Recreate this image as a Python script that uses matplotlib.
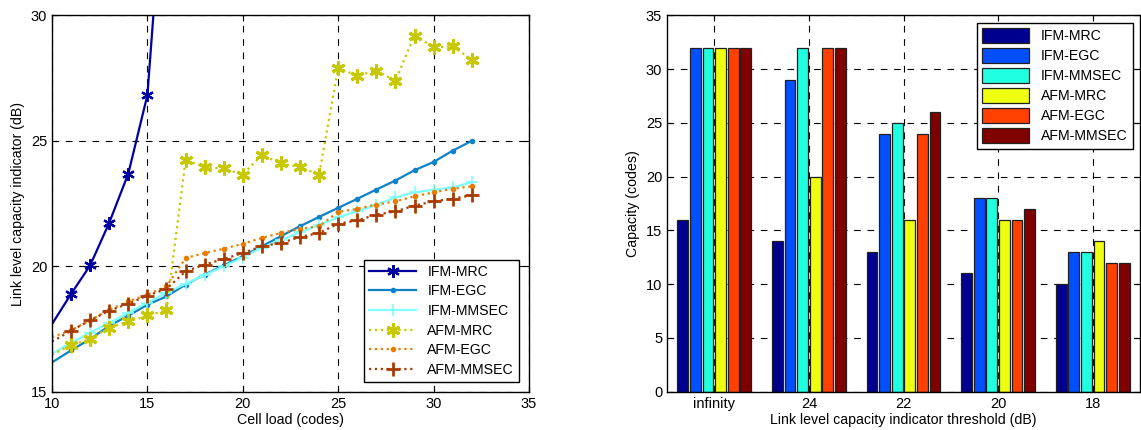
import numpy as np
import matplotlib
matplotlib.use("Agg")
import matplotlib.pyplot as plt

plt.rcParams["font.family"] = ["Liberation Sans", "DejaVu Sans"]
plt.rcParams["font.size"] = 10.2

# left panel: link level capacity indicator vs cell load
load = np.arange(10, 33)
ifm_mrc_load = np.arange(10, 17)
ifm_mrc = [17.7, 18.9, 20.04, 21.74, 23.7, 26.83, 37.0]
ifm_egc = [16.17, 16.65, 17.1, 17.63, 18.03, 18.47, 18.8, 19.27, 19.67, 20.04, 20.4, 20.8,
           21.2, 21.6, 21.97, 22.33, 22.69, 23.06, 23.42, 23.83, 24.16, 24.61, 25.0]
ifm_mmsec = [16.52, 16.95, 17.35, 17.75, 18.15, 18.55, 18.95, 19.3, 19.65, 20.0, 20.35, 20.75,
             21.05, 21.35, 21.65, 21.95, 22.2, 22.45, 22.75, 22.95, 23.05, 23.15, 23.35]
afm_mrc = [16.48, 16.85, 17.1, 17.56, 17.8, 18.04, 18.24, 24.24, 23.95, 23.9, 23.66, 24.44,
           24.1, 23.95, 23.66, 27.9, 27.6, 27.8, 27.4, 29.2, 28.73, 28.77, 28.24]
afm_egc = [17.18, 17.45, 17.85, 18.27, 18.6, 18.87, 19.2, 20.33, 20.53, 20.7, 20.9, 21.13,
           21.33, 21.49, 21.6, 22.17, 22.29, 22.46, 22.59, 22.79, 22.95, 23.09, 23.19]
afm_mmsec = [17.0, 17.43, 17.85, 18.23, 18.51, 18.83, 19.1, 19.8, 20.07, 20.29, 20.53, 20.8,
             20.93, 21.17, 21.33, 21.7, 21.83, 22.06, 22.19, 22.42, 22.59, 22.7, 22.83]

# right panel: capacity per threshold
thresholds = ["infinity", "24", "22", "20", "18"]
schemes = ["IFM-MRC", "IFM-EGC", "IFM-MMSEC", "AFM-MRC", "AFM-EGC", "AFM-MMSEC"]
capacity = {
    "IFM-MRC":   [16, 14, 13, 11, 10],
    "IFM-EGC":   [32, 29, 24, 18, 13],
    "IFM-MMSEC": [32, 32, 25, 18, 13],
    "AFM-MRC":   [32, 20, 16, 16, 14],
    "AFM-EGC":   [32, 32, 24, 16, 12],
    "AFM-MMSEC": [32, 32, 26, 17, 12],
}
bar_colors = ["#00008f", "#0050ff", "#20ffdf", "#efff10", "#ff4000", "#800000"]

fig = plt.figure(figsize=(11.41, 4.30), dpi=100)
ax1 = fig.add_axes([0.0456, 0.089, 0.418, 0.875])
ax2 = fig.add_axes([0.5846, 0.089, 0.4145, 0.875])

grid_kw = dict(color="black", linestyle=(0, (6, 6)), linewidth=0.8)

skip = slice(1, None)
ax1.plot(ifm_mrc_load, ifm_mrc, color="#0000a0", lw=1.6, marker=(6, 2, 0), ms=9, mew=1.6,
         markevery=skip, label="IFM-MRC")
ax1.plot(load, ifm_egc, color="#0f82c8", lw=1.6, marker="o", ms=3, markevery=skip, label="IFM-EGC")
ax1.plot(load, ifm_mmsec, color="#80ffff", lw=1.6, marker="+", ms=9, mew=1.2,
         markevery=skip, label="IFM-MMSEC")
ax1.plot(load, afm_mrc, color="#c8c800", lw=1.6, linestyle=":", marker=(6, 2, 0), ms=10, mew=2.2,
         markevery=skip, label="AFM-MRC")
ax1.plot(load, afm_egc, color="#e87d00", lw=1.6, linestyle=":", marker="o", ms=3,
         markevery=skip, label="AFM-EGC")
ax1.plot(load, afm_mmsec, color="#a83c00", lw=1.6, linestyle=":", marker="+", ms=10, mew=2,
         markevery=skip, label="AFM-MMSEC")
ax1.set_xlim(10, 35)
ax1.set_ylim(15, 30)
ax1.set_xticks(range(10, 36, 5))
ax1.set_yticks(range(15, 31, 5))
ax1.grid(True, **grid_kw)
ax1.set_xlabel("Cell load (codes)", labelpad=2)
ax1.set_ylabel("Link level capacity indicator (dB)", labelpad=4)
ax1.legend(loc="lower right", fancybox=False, edgecolor="black", framealpha=1,
           handlelength=3.3, borderaxespad=0.7, labelspacing=0.4, borderpad=0.35,
           fontsize=10.2)

x = np.arange(1, len(thresholds) + 1)
slot, width = 0.133, 0.115
for i, (name, col) in enumerate(zip(schemes, bar_colors)):
    ax2.bar(x + (i - 2.5) * slot, capacity[name], width=width, color=col,
            edgecolor="#202020", linewidth=0.9, label=name)
ax2.set_xlim(0.5, 5.5)
ax2.set_ylim(0, 35)
ax2.set_xticks(x)
ax2.set_xticklabels(thresholds)
ax2.set_yticks(range(0, 36, 5))
ax2.grid(True, **grid_kw)
ax2.set_axisbelow(True)
ax2.set_xlabel("Link level capacity indicator threshold (dB)", labelpad=2)
ax2.set_ylabel("Capacity (codes)", labelpad=4)
ax2.legend(loc="upper right", fancybox=False, edgecolor="black", framealpha=1,
           handlelength=3.3, handleheight=1.2, borderaxespad=0.5, labelspacing=0.35,
           fontsize=10.2)

for ax in (ax1, ax2):
    ax.tick_params(direction="in", length=4, top=True, right=True, labelsize=10.5)
    for s in ax.spines.values():
        s.set_linewidth(1.0)

fig.savefig("out.png", dpi=100)
